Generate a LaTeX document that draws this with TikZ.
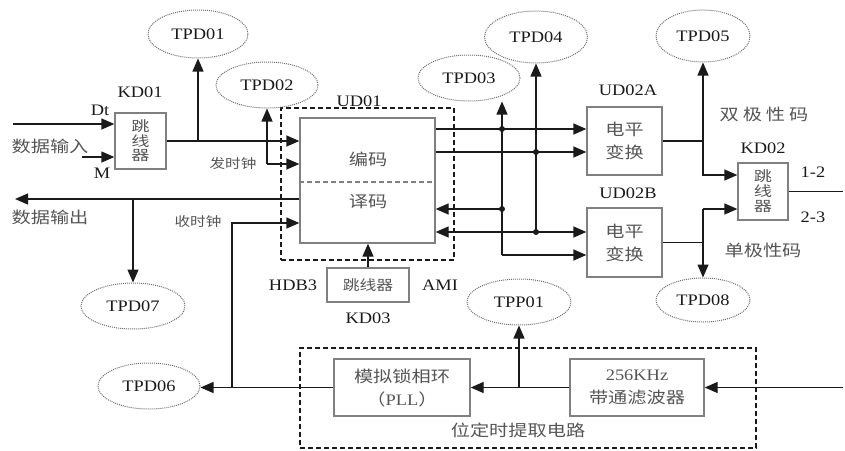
\documentclass[tikz,border=0pt]{standalone}
\usepackage{fontspec}
\setmainfont[FakeStretch=1.15]{Liberation Serif}
\newfontfamily\cjk[FakeStretch=1.2]{Noto Sans CJK SC}
\newfontfamily\cjkw[FakeStretch=1.3]{Noto Sans CJK SC}
\usetikzlibrary{arrows.meta,shapes.geometric,calc}

\definecolor{inkc}{HTML}{1A1A1A}
\definecolor{boxc}{HTML}{808080}
\definecolor{cjkc}{HTML}{555555}
\definecolor{tpc}{HTML}{707070}

\begin{document}
\begin{tikzpicture}[x=1pt,y=-1pt,
  wire/.style={draw=inkc,line width=1.3pt},
  arr/.style={wire,-{Triangle[length=13pt,width=11pt]}},
  darr/.style={wire,{Triangle[length=13pt,width=11pt]}-{Triangle[length=13pt,width=11pt]}},
  blk/.style={rectangle,draw=boxc,line width=1.3pt,inner sep=0pt,text=cjkc,align=center},
  probe/.style={ellipse,draw=tpc,dash pattern=on 1pt off 1pt,line width=1pt,inner sep=0pt,text=inkc,font=\fontsize{16}{18}\selectfont},
  lab/.style={text=inkc,inner sep=0pt,font=\fontsize{16}{18}\selectfont},
  zh/.style={text=cjkc,inner sep=0pt,font=\fontsize{16}{18}\selectfont\cjk},
  zhs/.style={text=cjkc,inner sep=0pt,font=\fontsize{13}{15}\selectfont\cjk},
  grp/.style={rectangle,draw=inkc,line width=1.3pt,dash pattern=on 5pt off 3pt,inner sep=0pt},
  jdot/.style={circle,fill=inkc,inner sep=0pt,minimum size=6pt},
]
\useasboundingbox (0,0) rectangle (845,450);

% ---------- groups ----------
\node[grp,minimum width=173pt,minimum height=152pt] (ud01) at (367.5,184) {};
\node[grp,minimum width=456pt,minimum height=100pt] (bitclk) at (528,398) {};

% ---------- blocks ----------
\node[blk,minimum width=51pt,minimum height=56pt,font=\fontsize{14}{14.5}\selectfont\cjkw] (kd01) at (140.5,141) {跳\\线\\器};
\node[blk,minimum width=135pt,minimum height=125pt] (codec) at (367.5,180.5) {};
\node[blk,minimum width=82pt,minimum height=34pt,font=\fontsize{14}{16}\selectfont\cjk] (kd03) at (368,285) {跳线器};
\node[blk,minimum width=75pt,minimum height=68pt,font=\fontsize{16}{23}\selectfont\cjk] (ud02a) at (624.5,141) {电平\\变换};
\node[blk,minimum width=75pt,minimum height=69pt,font=\fontsize{16}{23}\selectfont\cjk] (ud02b) at (624.5,242.5) {电平\\变换};
\node[blk,minimum width=50pt,minimum height=57pt,font=\fontsize{14}{15}\selectfont\cjkw] (kd02) at (763,191.5) {跳\\线\\器};
\node[blk,minimum width=136pt,minimum height=57pt,font=\fontsize{16}{23}\selectfont\cjk] (pll) at (402,387.5) {模拟锁相环\\（{\rmfamily PLL}）};
\node[blk,minimum width=134pt,minimum height=57pt,font=\fontsize{16}{23}\selectfont\cjk] (bpf) at (637,387.5) {{\rmfamily 256KHz}\\带通滤波器};

% codec halves
\coordinate (rsep) at (0,182);
\draw[draw=boxc,line width=1.3pt,dash pattern=on 5pt off 3pt] (codec.west |- rsep) -- (codec.east |- rsep);
\node[zh] (enc) at (368,159) {编码};
\node[zh] (dec) at (368,202) {译码};

% ---------- test points ----------
\node[probe,minimum width=100pt,minimum height=48pt] (tpd01) at (198,34) {TPD01};
\node[probe,minimum width=102pt,minimum height=46pt] (tpd02) at (267,85) {TPD02};
\node[probe,minimum width=102pt,minimum height=46pt] (tpd03) at (469,78) {TPD03};
\node[probe,minimum width=103pt,minimum height=52pt] (tpd04) at (536,37) {TPD04};
\node[probe,minimum width=94pt,minimum height=52pt] (tpd05) at (703,36) {TPD05};
\node[probe,minimum width=104pt,minimum height=46pt] (tpd07) at (133,306) {TPD07};
\node[probe,minimum width=102pt,minimum height=46pt] (tpd06) at (149,386) {TPD06};
\node[probe,minimum width=104pt,minimum height=46pt] (tpp01) at (519,302) {TPP01};
\node[probe,minimum width=94pt,minimum height=44pt] (tpd08) at (703,300) {TPD08};

% ---------- labels ----------
\node[lab] at (140,92) {KD01};
\node[lab] at (100,110) {Dt};
\node[lab] at (102,173) {M};
\node[zh] at (50,146) {数据输入};
\node[zh] at (50,217) {数据输出};
\node[zhs] at (233,164) {发时钟};
\node[zhs] at (198,222) {收时钟};
\node[lab] at (359,101) {UD01};
\node[lab] at (293,285) {HDB3};
\node[lab] at (440,285) {AMI};
\node[lab] at (368,318) {KD03};
\node[lab] at (628,90) {UD02A};
\node[lab] at (628,193) {UD02B};
\node[zh] at (764,114) {双\hspace{4pt}极\hspace{4pt}性\hspace{4pt}码};
\node[lab] at (763,148) {KD02};
\node[lab] at (813,172) {1-2};
\node[lab] at (813,217) {2-3};
\node[zh] at (763,250) {单极性码};
\node[zh] at (518,430) {位定时提取电路};

% ---------- transmit side ----------
\coordinate (dtin) at (13,124);
\coordinate (min) at (82,157);
\draw[arr] (dtin) -- (dtin -| kd01.west);
\draw[arr] (min) -- (min -| kd01.west);
\draw[arr] (kd01.east) -- (kd01.east -| codec.west);
\coordinate (t1) at (tpd01.south |- kd01.east);
\draw[arr] (t1) -- (tpd01.south);
\coordinate (txck) at (267,164);
\draw[arr] (txck) -- (txck -| codec.west);
\draw[arr] (txck) -- (tpd02.south);

% ---------- receive side ----------
\coordinate (dout) at (15,199);
\draw[arr] (codec.west |- dout) -- (dout);
\coordinate (t7) at (tpd07.north |- dout);
\draw[arr] (t7) -- (tpd07.north);
\coordinate (rxck) at (232,387.5);
\coordinate (rrx) at (0,223);
\draw[arr] (pll.west) -- (pll.west -| tpd06.east);
\draw[arr] (rxck) |- (codec.west |- rrx);
\draw[arr] (kd03.north) -- (kd03.north |- codec.south);

% ---------- line side ----------
\coordinate (r1) at (0,129);
\coordinate (r2) at (0,152);
\coordinate (r3) at (0,209);
\coordinate (r4) at (0,232);
\coordinate (r5) at (0,255);
\coordinate (c3) at (502,0);
\coordinate (c4) at (536,0);
\draw[arr] (codec.east |- r1) -- (ud02a.west |- r1);
\draw[arr] (codec.east |- r2) -- (ud02a.west |- r2);
\draw[arr] (c3 |- r3) -- (codec.east |- r3);
\draw[darr] (codec.east |- r4) -- (ud02b.west |- r4);
\draw[arr] (c3 |- r5) -- (c3 |- tpd03.south);
\draw[arr] (c3 |- r5) -- (ud02b.west |- r5);
\draw[arr] (c4 |- r4) -- (c4 |- tpd04.south);
\node[jdot] at (c3 |- r1) {};
\node[jdot] at (c3 |- r3) {};
\node[jdot] at (c4 |- r2) {};
\node[jdot] at (c4 |- r4) {};

% ---------- level shifters to KD02 ----------
\coordinate (c5) at (703,0);
\coordinate (r6) at (0,175);
\coordinate (r7) at (0,209);
\draw[wire] (ud02a.east) -- (c5 |- ud02a.east);
\draw[arr] (c5 |- ud02a.east) -- (c5 |- tpd05.south);
\draw[arr] (c5 |- ud02a.east) |- (kd02.west |- r6);
\draw[wire] (ud02b.east) -- (c5 |- ud02b.east);
\draw[arr] (c5 |- r7) -- (c5 |- tpd08.north);
\draw[arr] (c5 |- r7) -- (kd02.west |- r7);
\coordinate (kdout) at (843,0);
\draw[wire] (kd02.east) -- (kd02.east -| kdout);

% ---------- bit timing extraction ----------
\coordinate (bin) at (843,387.5);
\draw[arr] (bin) -- (bpf.east);
\draw[arr] (bpf.west) -- (pll.east);
\coordinate (t9) at (tpp01.south |- pll.east);
\draw[arr] (t9) -- (tpp01.south);
\end{tikzpicture}
\end{document}
